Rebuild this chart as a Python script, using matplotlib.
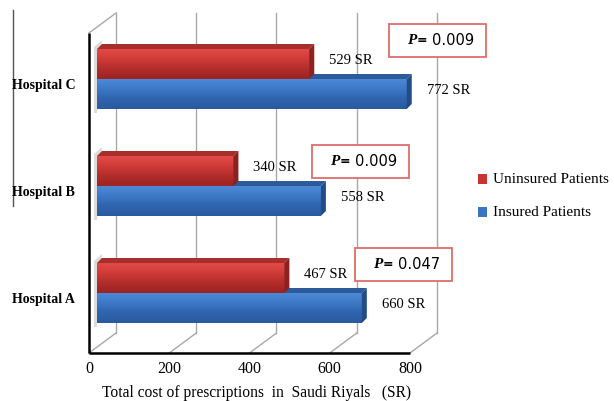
import numpy as np
import matplotlib
matplotlib.use("Agg")
import matplotlib.pyplot as plt
from matplotlib.patches import Polygon, Rectangle
from matplotlib.colors import LinearSegmentedColormap

# ---- data ----
hospitals = ["Hospital A", "Hospital B", "Hospital C"]
uninsured = [467, 340, 529]
insured = [660, 558, 772]
p_values = ["0.047", "0.009", "0.009"]
ticks = [0, 200, 400, 600, 800]
series_names = ["Uninsured Patients", "Insured Patients"]
xlabel = "Total cost of prescriptions  in  Saudi Riyals   (SR)"

# ---- geometry (pixel-based scale helpers) ----
S = 321 / 800.0   # px per SR on the front plane
G = 107.0         # px per category unit
X0, Y0 = 89.0, 299.0

def pv(px):
    return (px - X0) / S

def pu(py):
    return (Y0 - py) / G

fig = plt.figure(figsize=(6.14, 4.01), dpi=100)
ax = fig.add_axes([0, 0, 1, 1])
ax.set_xlim(pv(0), pv(614))
ax.set_ylim(pu(401), pu(0))
ax.axis("off")

serif = "Liberation Serif"

WDV, WDU = 27 / S, 20 / G      # wall depth
BDV, BDU = 8 / S, 6 / G        # bar front offset
TDV, TDU = 5 / S, 5 / G        # bar depth
h = 30 / G
u_bot, u_top = pu(353), pu(33)

grid_c = "#a8a8a8"
# back wall gridlines and floor diagonals
for t in ticks:
    ax.plot([t + WDV, t + WDV], [u_bot + WDU, u_top + WDU], color=grid_c, lw=1.0, zorder=1)
    ax.plot([t, t + WDV], [u_bot, u_bot + WDU], color=grid_c, lw=1.0, zorder=1)
ax.plot([0, WDV], [u_top, u_top + WDU], color=grid_c, lw=1.0, zorder=1)
# front axis lines
ax.plot([0, 0], [u_bot, u_top], color="black", lw=1.8, zorder=5, solid_capstyle="butt")
ax.plot([0, ticks[-1]], [u_bot, u_bot], color="black", lw=1.8, zorder=5, solid_capstyle="butt")
# stray line on far left
ax.plot([pv(13), pv(13)], [pu(10), pu(206)], color="#555555", lw=1.0, zorder=1)

red_cmap = LinearSegmentedColormap.from_list("r", ["#e24a47", "#cf3b38", "#b22d2b", "#9c2422"])
blue_cmap = LinearSegmentedColormap.from_list("b", ["#4d8ad6", "#3d78c6", "#2f64ad", "#2a5a9e"])
grad = np.linspace(0, 1, 64).reshape(-1, 1)

def bar3d(val, uc, cmap, top_c, side_c, z):
    y0 = uc - h / 2
    rect = ax.barh([uc], [val], height=h, left=BDV, color="none", zorder=z)[0]
    im = ax.imshow(grad, cmap=cmap, extent=[BDV, BDV + val, y0, y0 + h],
                   aspect="auto", origin="upper", zorder=z, interpolation="bilinear")
    im.set_clip_path(rect)
    x1 = BDV + val
    top = Polygon([[BDV, y0 + h], [BDV + TDV, y0 + h + TDU], [x1 + TDV, y0 + h + TDU], [x1, y0 + h]],
                  closed=True, facecolor=top_c, edgecolor="none", zorder=z)
    side = Polygon([[x1, y0 + h], [x1 + TDV, y0 + h + TDU], [x1 + TDV, y0 + TDU], [x1, y0]],
                   closed=True, facecolor=side_c, edgecolor="none", zorder=z)
    ax.add_patch(top)
    ax.add_patch(side)
    return x1

for i, name in enumerate(hospitals):
    # soft shadow
    sh = Polygon([[BDV - 3 / S, i - h + BDU - 4 / G], [BDV - 3 / S, i + h + BDU + 2 / G],
                  [BDV + TDV, i + h + BDU + TDU + 4 / G], [BDV, i - h + BDU - 4 / G]],
                 closed=True, facecolor="#dcdcdc", edgecolor="none", zorder=2)
    ax.add_patch(sh)
    xb = bar3d(insured[i], i - h / 2 + BDU, blue_cmap, "#2c5a9a", "#234c86", 3)
    xr = bar3d(uninsured[i], i + h / 2 + BDU, red_cmap, "#a82e2c", "#8c2220", 4)
    ax.annotate(f"{uninsured[i]} SR", xy=(xr, i + h / 2 + BDU), xytext=(20 * 0.72, 4 * 0.72),
                textcoords="offset points", ha="left", va="center", fontsize=10.5,
                family=serif, zorder=6)
    ax.annotate(f"{insured[i]} SR", xy=(xb, i - h / 2 + BDU), xytext=(20 * 0.72, 4 * 0.72),
                textcoords="offset points", ha="left", va="center", fontsize=10.5,
                family=serif, zorder=6)
    ax.text(pv(12), i, name, ha="left", va="center", fontsize=10, fontweight="bold",
            family=serif, zorder=6)

# tick labels
for t in ticks:
    ax.text(t, pu(369), str(t), ha="center", va="center", fontsize=11.5, family=serif)
ax.text(pv(257), pu(393), xlabel, ha="center", va="center", fontsize=11.2, family=serif)

# p-value boxes (pixel boxes: x0, y0, x1, y1)
p_boxes = [(355, 248, 452, 281), (312, 145, 409, 178), (389, 24, 486, 57)]
for (bx0, by0, bx1, by1), p in zip(p_boxes, p_values):
    r = Rectangle((pv(bx0), pu(by1)), pv(bx1) - pv(bx0), pu(by0) - pu(by1),
                  facecolor="white", edgecolor="#e06c6c", lw=1.3, zorder=7)
    ax.add_patch(r)
    cy = pu((by0 + by1) / 2)
    ax.text(pv(bx0 + 18), cy, "P", ha="left", va="center", fontsize=11, fontweight="bold",
            fontstyle="italic", family=serif, zorder=8)
    ax.text(pv(bx0 + 28), cy, "=", ha="left", va="center", fontsize=9, fontweight="bold",
            family="DejaVu Sans", zorder=8)
    ax.text(pv(bx0 + 43), cy, p, ha="left", va="center", fontsize=10.5,
            family="DejaVu Sans", zorder=8)

# legend
leg_items = [(series_names[0], 179, "#c83432"), (series_names[1], 212, "#3a74c2")]
for label, ly, col in leg_items:
    ax.add_patch(Rectangle((pv(478), pu(ly + 5)), 9 / S, 10 / G, facecolor=col,
                           edgecolor="none", zorder=7))
    ax.text(pv(493), pu(ly), label, ha="left", va="center", fontsize=11, family=serif, zorder=8)

fig.savefig("out.png", dpi=100)
